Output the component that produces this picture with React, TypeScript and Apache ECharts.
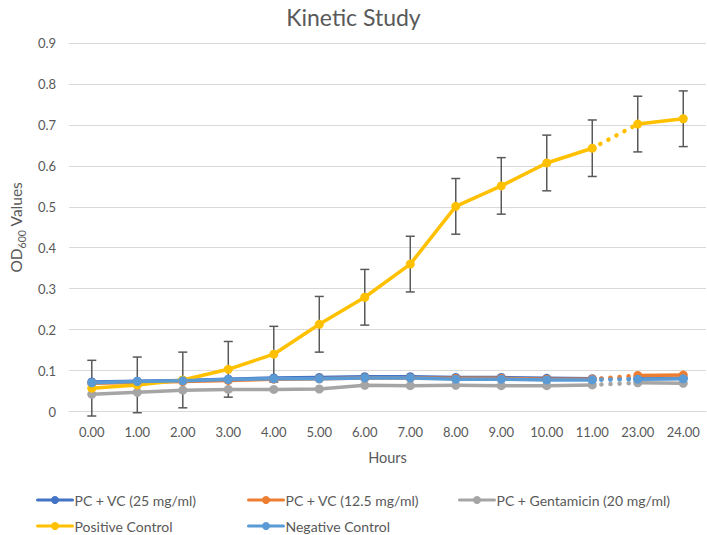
import React, { useEffect, useRef } from "react";
import * as echarts from "echarts";

const hours = ["0.00", "1.00", "2.00", "3.00", "4.00", "5.00", "6.00", "7.00", "8.00", "9.00", "10.00", "11.00", "23.00", "24.00"];
const vc25 = [0.072, 0.074, 0.076, 0.079, 0.082, 0.083, 0.085, 0.085, 0.083, 0.083, 0.081, 0.080, 0.080, 0.081];
const vc125 = [0.069, 0.071, 0.073, 0.076, 0.079, 0.080, 0.082, 0.082, 0.081, 0.081, 0.079, 0.079, 0.088, 0.089];
const gentamicin = [0.042, 0.047, 0.052, 0.054, 0.054, 0.055, 0.064, 0.063, 0.064, 0.063, 0.063, 0.065, 0.070, 0.069];
const positive = [0.057, 0.065, 0.077, 0.103, 0.140, 0.213, 0.279, 0.360, 0.501, 0.551, 0.607, 0.643, 0.702, 0.715];
const negative = [0.070, 0.073, 0.075, 0.078, 0.080, 0.080, 0.082, 0.082, 0.079, 0.079, 0.077, 0.077, 0.079, 0.080];
const positiveErr = [0.068, 0.068, 0.068, 0.068, 0.068, 0.068, 0.068, 0.068, 0.068, 0.069, 0.068, 0.069, 0.068, 0.068];

const seriesDefs = [
  { name: "PC + VC (25 mg/ml)", color: "#4472C4", data: vc25 },
  { name: "PC + VC (12.5 mg/ml)", color: "#ED7D31", data: vc125 },
  { name: "PC + Gentamicin (20 mg/ml)", color: "#A5A5A5", data: gentamicin },
  { name: "Positive Control", color: "#FFC000", data: positive },
  { name: "Negative Control", color: "#5B9BD5", data: negative },
];

const FONT = "Lato";
const TEXT = "#595959";

export default function App() {
  const ref = useRef<HTMLDivElement>(null);
  useEffect(() => {
    if (!ref.current) return;
    const chart = echarts.init(ref.current, undefined, { renderer: "svg" });
    const series: any[] = [];
    series.push({
      type: "custom",
      name: "errors",
      data: positive.map((v, i) => [i, v - positiveErr[i], v + positiveErr[i]]),
      encode: { x: 0, y: [1, 2] },
      silent: true,
      renderItem: (params: any, api: any) => {
        const i = api.value(0);
        const lo = api.coord([i, api.value(1)]);
        const hi = api.coord([i, api.value(2)]);
        const st = { stroke: "#595959", lineWidth: 1.5 };
        const cw = 4.5;
        return {
          type: "group",
          children: [
            { type: "line", shape: { x1: lo[0], y1: lo[1], x2: hi[0], y2: hi[1] }, style: st },
            { type: "line", shape: { x1: lo[0] - cw, y1: lo[1], x2: lo[0] + cw, y2: lo[1] }, style: st },
            { type: "line", shape: { x1: hi[0] - cw, y1: hi[1], x2: hi[0] + cw, y2: hi[1] }, style: st },
          ],
        };
      },
    });
    seriesDefs.forEach((s) => {
      const common = {
        type: "line",
        name: s.name,
        color: s.color,
        symbol: "circle",
        symbolSize: 9,
        showSymbol: true,
        itemStyle: { color: s.color, borderWidth: 0 },
      };
      series.push({
        ...common,
        data: s.data.map((v, i) => (i <= 11 ? v : null)),
        lineStyle: { width: 3.5, color: s.color, cap: "round", join: "round" },
      });
      series.push({
        ...common,
        data: s.data.map((v, i) => (i === 11 || i === 12 ? v : null)),
        symbol: "none",
        showSymbol: false,
        lineStyle: { width: 4.5, color: s.color, type: [0.1, 9], cap: "round" },
      });
      series.push({
        ...common,
        data: s.data.map((v, i) => (i >= 12 ? v : null)),
        lineStyle: { width: 3.5, color: s.color, cap: "round", join: "round" },
      });
    });

    const legendPos = [
      { left: 36, top: 493 },
      { left: 247, top: 493 },
      { left: 458, top: 493 },
      { left: 36, top: 519 },
      { left: 247, top: 519 },
    ];
    const legends = seriesDefs.map((s, k) => ({
      data: [s.name],
      left: legendPos[k].left,
      top: legendPos[k].top,
      padding: 0,
      itemWidth: 35,
      itemHeight: 10,
      itemGap: 0,
      selectedMode: false,
      lineStyle: { width: 3 },
      textStyle: { color: TEXT, fontSize: 14, fontFamily: FONT, padding: [0, 0, 0, -3] },
    }));

    chart.setOption({
      animation: false,
      backgroundColor: "#ffffff",
      title: {
        text: "Kinetic Study",
        left: "center",
        top: 0,
        textStyle: { color: TEXT, fontSize: 23, fontWeight: "normal", fontFamily: FONT },
      },
      legend: legends,
      grid: { left: 53, right: 1, top: 43, bottom: 123.5, containLabel: false },
      xAxis: {
        type: "category",
        data: hours,
        boundaryGap: true,
        name: "Hours",
        nameLocation: "middle",
        nameGap: 38,
        nameTextStyle: { color: TEXT, fontSize: 14.5, fontFamily: FONT },
        axisLine: { lineStyle: { color: "#d9d9d9", width: 1 } },
        axisTick: { show: false },
        axisLabel: { color: TEXT, fontSize: 13, fontFamily: FONT, margin: 14 },
      },
      yAxis: {
        type: "value",
        min: 0,
        max: 0.9,
        interval: 0.1,
        name: "{a|OD}{b|600}{a| Values}",
        nameLocation: "middle",
        nameGap: 38,
        nameTextStyle: {
          rich: {
            a: { color: TEXT, fontSize: 15.5, fontFamily: FONT },
            b: { color: TEXT, fontSize: 10.5, fontFamily: FONT, verticalAlign: "bottom", padding: [0, 0, -3, 0] },
          },
        },
        axisLine: { show: false },
        axisTick: { show: false },
        splitLine: { lineStyle: { color: "#d9d9d9", width: 1 } },
        axisLabel: {
          color: TEXT,
          fontSize: 13,
          fontFamily: FONT,
          margin: 13,
          formatter: (v: number) => (v === 0 ? "0" : String(Math.round(v * 10) / 10)),
        },
      },
      series,
    });
    return () => chart.dispose();
  }, []);
  return (
    <div
      ref={ref}
      style={{ position: "fixed", left: 0, top: 0, width: 707, height: 535, background: "#fff" }}
    />
  );
}
